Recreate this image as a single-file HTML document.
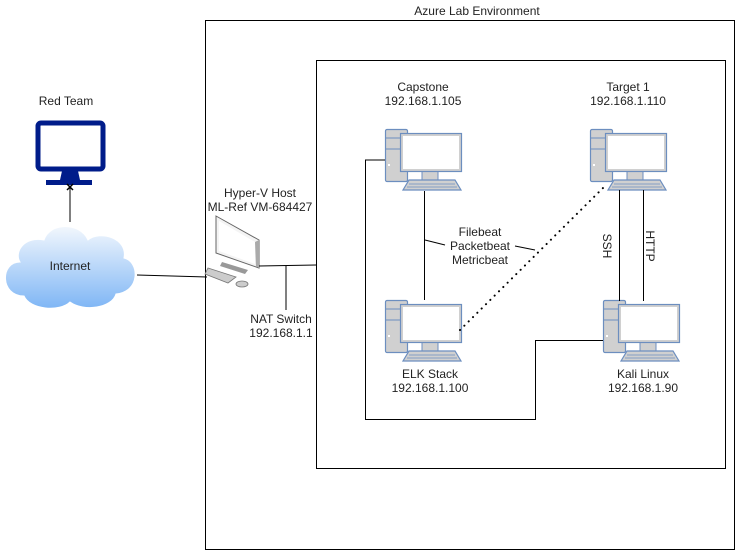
<!DOCTYPE html>
<html><head><meta charset="utf-8"><style>
html,body{margin:0;padding:0;background:#fff;}
svg{display:block;font-family:"Liberation Sans",Arial,sans-serif;font-size:12px;fill:#222;}
</style></head><body>
<svg width="736" height="551" viewBox="0 0 736 551" xmlns="http://www.w3.org/2000/svg">
<defs>
<linearGradient id="cg" x1="0" y1="0" x2="0" y2="1">
<stop offset="0" stop-color="#f2f7fd"/><stop offset="1" stop-color="#7fb6f5"/>
</linearGradient>
<g id="pc">
<rect x="0.5" y="0.5" width="22" height="52" rx="1.5" fill="#d0d0d0" stroke="#6c8ebf" stroke-width="1.2"/>
<line x1="0.5" y1="9" x2="22.5" y2="9" stroke="#6c8ebf"/>
<line x1="0.5" y1="20" x2="22.5" y2="20" stroke="#6c8ebf"/>
<rect x="3" y="35" width="2" height="2" fill="#fff"/>
<rect x="37" y="42" width="16" height="10" fill="#d0d0d0" stroke="#6c8ebf"/>
<rect x="15.5" y="4.5" width="61" height="38" fill="#d0d0d0" stroke="#6c8ebf" stroke-width="1.2"/>
<rect x="18" y="7" width="56" height="33" fill="#fff"/>
<path d="M24 51 L70 51 L76 61 L18 61 Z" fill="#d0d0d0" stroke="#6c8ebf" stroke-width="1.2"/>
<line x1="24" y1="55" x2="70" y2="55" stroke="#6c8ebf" stroke-width="0.8"/>
<line x1="22" y1="58" x2="72" y2="58" stroke="#6c8ebf" stroke-width="0.8"/>
</g>
</defs>

<text x="477" y="15" text-anchor="middle">Azure Lab Environment</text>
<rect x="205.5" y="20.5" width="529" height="529" fill="none" stroke="#000"/>
<rect x="316.5" y="60.5" width="409" height="408" fill="none" stroke="#000"/>

<text x="66" y="105" text-anchor="middle">Red Team</text>
<rect x="38" y="123" width="65" height="46" rx="3" fill="#fff" stroke="#001c8a" stroke-width="5"/>
<path d="M62 171 L78 171 L80 180 L92 180 L92 185 L46 185 L46 180 L60 180 Z" fill="#001c8a"/>
<line x1="70" y1="222" x2="70" y2="187" stroke="#000"/>
<path d="M67 184 L73 190 M73 184 L67 190" stroke="#000" stroke-width="1.5"/>

<path d="M20 262 C0 262 0 296 24 296 C30 310 60 312 70 302 C84 312 112 308 116 294 C140 292 140 262 124 258 C128 238 100 230 88 240 C80 222 50 222 44 240 C24 236 14 252 20 262 Z" fill="url(#cg)" stroke="#fff" stroke-width="1"/>
<text x="70" y="270" text-anchor="middle">Internet</text>
<line x1="137" y1="275" x2="207" y2="277" stroke="#000"/>

<text x="260" y="197" text-anchor="middle">Hyper-V Host</text>
<text x="260" y="211" text-anchor="middle">ML-Ref VM-684427</text>
<path d="M216 216 L259 240 L259 268 L216 253 Z" fill="#f4f4f4" stroke="#666"/>
<path d="M219 221 L255 242 L255 264 L219 251 Z" fill="#fff"/>
<path d="M255 242 L259 240 L259 268 L256 266 Z" fill="#aaa"/>
<path d="M222 262 L248 270 L245 274 L220 266 Z" fill="#999"/>
<path d="M208 268 L236 277 L228 283 L205 274 Z" fill="#ccc" stroke="#777" stroke-width="0.8"/>
<ellipse cx="242" cy="284" rx="6" ry="3" fill="#ccc" stroke="#777" stroke-width="0.8"/>
<line x1="259" y1="266" x2="316" y2="265" stroke="#000"/>
<line x1="286" y1="266" x2="286" y2="310" stroke="#000"/>
<text x="281" y="323" text-anchor="middle">NAT Switch</text>
<text x="281" y="337" text-anchor="middle">192.168.1.1</text>

<use href="#pc" x="385" y="129"/>
<use href="#pc" x="590" y="129"/>
<use href="#pc" x="385" y="300"/>
<use href="#pc" x="603" y="300"/>

<text x="423" y="91" text-anchor="middle">Capstone</text>
<text x="423" y="105" text-anchor="middle">192.168.1.105</text>
<text x="628" y="91" text-anchor="middle">Target 1</text>
<text x="628" y="105" text-anchor="middle">192.168.1.110</text>
<text x="430" y="378" text-anchor="middle">ELK Stack</text>
<text x="430" y="392" text-anchor="middle">192.168.1.100</text>
<text x="643" y="378" text-anchor="middle">Kali Linux</text>
<text x="643" y="392" text-anchor="middle">192.168.1.90</text>

<line x1="424.5" y1="191" x2="424.5" y2="300" stroke="#000"/>
<polyline points="385,160 365.5,160 365.5,419.5 535.5,419.5 535.5,340.5 603,340.5" fill="none" stroke="#000"/>
<line x1="460" y1="330" x2="606" y2="185" stroke="#000" stroke-width="2" stroke-dasharray="0.1 6" stroke-linecap="round"/>
<line x1="619.5" y1="190" x2="619.5" y2="301" stroke="#000"/>
<line x1="643.5" y1="190" x2="643.5" y2="301" stroke="#000"/>
<line x1="425" y1="240" x2="445" y2="245" stroke="#000"/>
<line x1="515" y1="246" x2="535" y2="250" stroke="#000"/>
<text x="480" y="236" text-anchor="middle">Filebeat</text>
<text x="480" y="250" text-anchor="middle">Packetbeat</text>
<text x="480" y="264" text-anchor="middle">Metricbeat</text>
<text transform="translate(603,246) rotate(90)" text-anchor="middle">SSH</text>
<text transform="translate(646,246) rotate(90)" text-anchor="middle">HTTP</text>
</svg>
</body></html>
